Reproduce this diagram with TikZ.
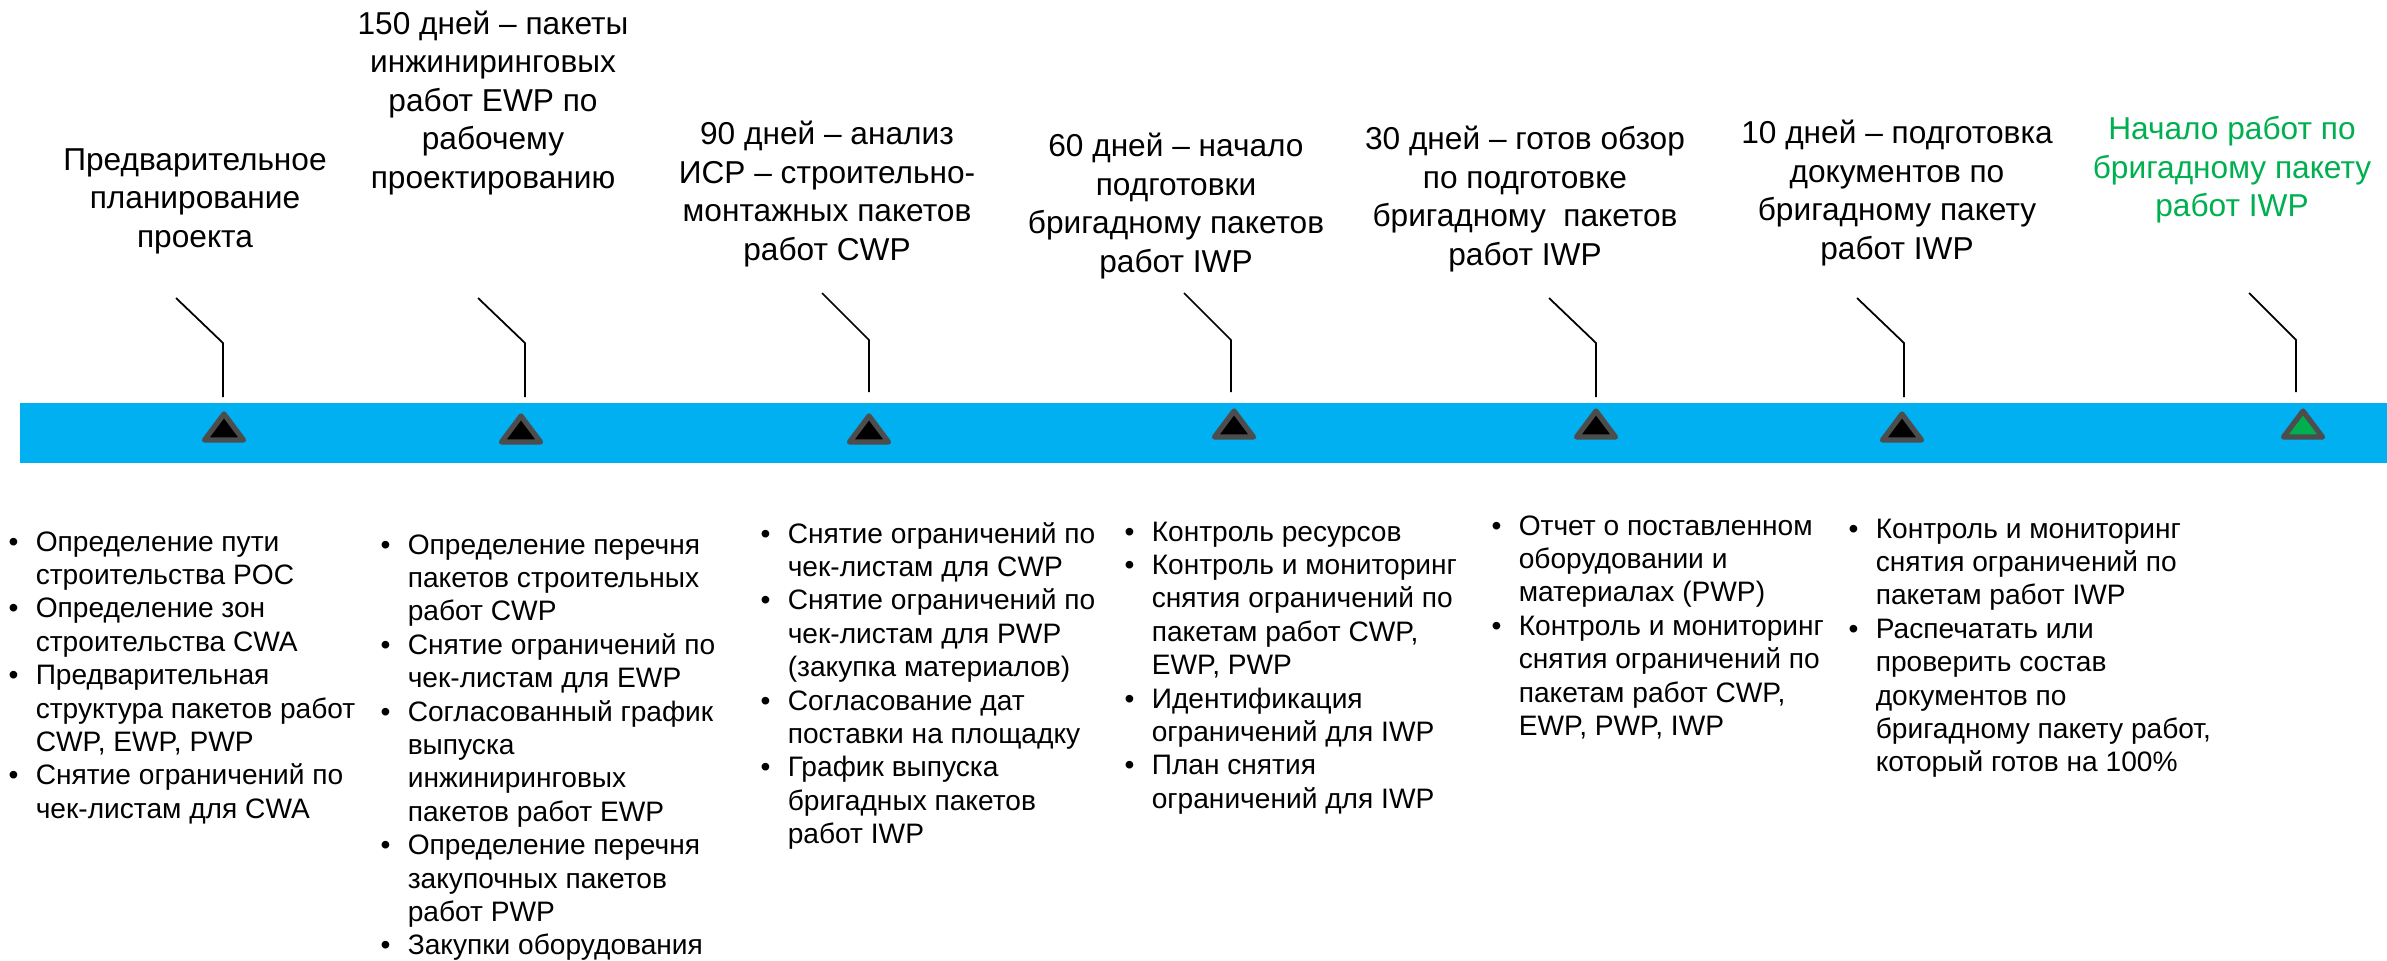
\documentclass[tikz,border=0pt]{standalone}
\usepackage{fontspec}
\setmainfont{Liberation Sans}
\definecolor{barblue}{HTML}{00B0F0}
\definecolor{startgreen}{HTML}{00B050}
\definecolor{trigray}{HTML}{4D4D4D}
\newcommand{\bl}{\makebox[7.7pt][l]{\textbullet}}

\begin{document}
\begin{tikzpicture}[x=0.01cm, y=-0.01cm,
	title/.style={align=center, font=\fontsize{9}{10.95}\selectfont, inner sep=0pt},
	itemlist/.style={anchor=north west, inner sep=0pt, font=\fontsize{8}{9.5}\selectfont},
	leader/.style={black, line width=.5pt},
	milestone/.style={fill=black, draw=trigray, line width=1.5pt, line join=round}]

	\useasboundingbox (0,0) rectangle (2387,960);

	% timeline bar
	\fill[barblue] (20,403) rectangle (2387,463);

	% milestones
	\coordinate (m1) at (224,440);
	\coordinate (m2) at (521,442);
	\coordinate (m3) at (869,442);
	\coordinate (m4) at (1234,437);
	\coordinate (m5) at (1596,437);
	\coordinate (m6) at (1902,440);
	\coordinate (m7) at (2303,437);

	\filldraw[milestone] (m1) +(-19.5,0) -- +(0,-26) -- +(19.5,0) -- cycle;
	\filldraw[milestone] (m2) +(-19.5,0) -- +(0,-26) -- +(19.5,0) -- cycle;
	\filldraw[milestone] (m3) +(-19.5,0) -- +(0,-26) -- +(19.5,0) -- cycle;
	\filldraw[milestone] (m4) +(-19.5,0) -- +(0,-26) -- +(19.5,0) -- cycle;
	\filldraw[milestone] (m5) +(-19.5,0) -- +(0,-26) -- +(19.5,0) -- cycle;
	\filldraw[milestone] (m6) +(-19.5,0) -- +(0,-26) -- +(19.5,0) -- cycle;
	\filldraw[milestone, fill=startgreen] (m7) +(-19.5,0) -- +(0,-26) -- +(19.5,0) -- cycle;

	% leaders
	\coordinate (k1) at (176,298);  \coordinate (e1) at (223,397);
	\coordinate (k2) at (478,298);  \coordinate (e2) at (525,397);
	\coordinate (k3) at (822,293);  \coordinate (e3) at (869,392);
	\coordinate (k4) at (1184,293); \coordinate (e4) at (1231,392);
	\coordinate (k5) at (1549,298); \coordinate (e5) at (1596,397);
	\coordinate (k6) at (1857,298); \coordinate (e6) at (1904,397);
	\coordinate (k7) at (2249,293); \coordinate (e7) at (2296,392);

	\draw[leader] (k1) -- ++(47,45) -- (e1);
	\draw[leader] (k2) -- ++(47,45) -- (e2);
	\draw[leader] (k3) -- ++(47,47) -- (e3);
	\draw[leader] (k4) -- ++(47,47) -- (e4);
	\draw[leader] (k5) -- ++(47,45) -- (e5);
	\draw[leader] (k6) -- ++(47,45) -- (e6);
	\draw[leader] (k7) -- ++(47,47) -- (e7);

	% titles
	\node[title] (t1) at (195,201) {Предварительное\\планирование\\проекта};
	\node[title] (t2) at (493,103) {150 дней – пакеты\\инжиниринговых\\работ EWP по\\рабочему\\проектированию};
	\node[title] (t3) at (827,194) {90 дней – анализ\\ИСР – строительно-\\монтажных пакетов\\работ CWP};
	\node[title] (t4) at (1176,206) {60 дней – начало\\подготовки\\бригадному пакетов\\работ IWP};
	\node[title] (t5) at (1525,199) {30 дней – готов обзор\\по подготовке\\бригадному~~пакетов\\работ IWP};
	\node[title] (t6) at (1897,193) {10 дней – подготовка\\документов по\\бригадному пакету\\работ IWP};
	\node[title, text=startgreen] (t7) at (2232,170) {Начало работ по\\бригадному пакету\\работ IWP};

	% task lists
	\node[itemlist] (l1) at (8,527) {\begin{tabular}{@{}l@{}l@{}}
		\bl & Определение пути\\
		    & строительства POC\\
		\bl & Определение зон\\
		    & строительства CWA\\
		\bl & Предварительная\\
		    & структура пакетов работ\\
		    & CWP, EWP, PWP\\
		\bl & Снятие ограничений по\\
		    & чек-листам для CWA
	\end{tabular}};
	\node[itemlist] (l2) at (380,530) {\begin{tabular}{@{}l@{}l@{}}
		\bl & Определение перечня\\
		    & пакетов строительных\\
		    & работ CWP\\
		\bl & Снятие ограничений по\\
		    & чек-листам для EWP\\
		\bl & Согласованный график\\
		    & выпуска\\
		    & инжиниринговых\\
		    & пакетов работ EWP\\
		\bl & Определение перечня\\
		    & закупочных пакетов\\
		    & работ PWP\\
		\bl & Закупки оборудования
	\end{tabular}};
	\node[itemlist] (l3) at (760,519) {\begin{tabular}{@{}l@{}l@{}}
		\bl & Снятие ограничений по\\
		    & чек-листам для CWP\\
		\bl & Снятие ограничений по\\
		    & чек-листам для PWP\\
		    & (закупка материалов)\\
		\bl & Согласование дат\\
		    & поставки на площадку\\
		\bl & График выпуска\\
		    & бригадных пакетов\\
		    & работ IWP
	\end{tabular}};
	\node[itemlist] (l4) at (1124,517) {\begin{tabular}{@{}l@{}l@{}}
		\bl & Контроль ресурсов\\
		\bl & Контроль и мониторинг\\
		    & снятия ограничений по\\
		    & пакетам работ CWP,\\
		    & EWP, PWP\\
		\bl & Идентификация\\
		    & ограничений для IWP\\
		\bl & План снятия\\
		    & ограничений для IWP
	\end{tabular}};
	\node[itemlist] (l5) at (1491,511) {\begin{tabular}{@{}l@{}l@{}}
		\bl & Отчет о поставленном\\
		    & оборудовании и\\
		    & материалах (PWP)\\
		\bl & Контроль и мониторинг\\
		    & снятия ограничений по\\
		    & пакетам работ CWP,\\
		    & EWP, PWP, IWP
	\end{tabular}};
	\node[itemlist] (l6) at (1848,514) {\begin{tabular}{@{}l@{}l@{}}
		\bl & Контроль и мониторинг\\
		    & снятия ограничений по\\
		    & пакетам работ IWP\\
		\bl & Распечатать или\\
		    & проверить состав\\
		    & документов по\\
		    & бригадному пакету работ,\\
		    & который готов на 100\%
	\end{tabular}};

\end{tikzpicture}
\end{document}
